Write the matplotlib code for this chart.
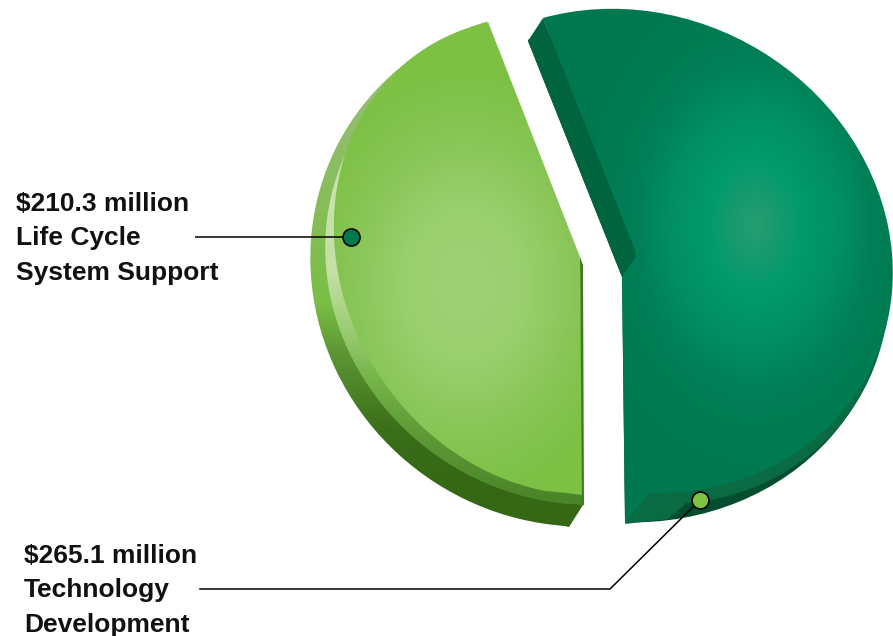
import numpy as np
import matplotlib
matplotlib.use("Agg")
import matplotlib.pyplot as plt
from matplotlib.colors import LinearSegmentedColormap
from matplotlib.patches import Polygon
from matplotlib.transforms import Affine2D

# data
values = [265.1, 210.3]
amounts = ["$265.1 million", "$210.3 million"]
names = [["Technology", "Development"], ["Life Cycle", "System Support"]]

W, H = 893, 636
plt.rcParams['font.family'] = ['Liberation Sans', 'DejaVu Sans']
fig = plt.figure(figsize=(W / 100, H / 100), dpi=100)
ax = fig.add_axes([0, 0, 1, 1])
yy, xx = np.mgrid[0:H, 0:W] + 0.5


def ellipse_layer(i, outline, flip, color='none', z=1, from_end=False):
    """One pie slice drawn on the ellipse through outline; it starts at outline[0]
    or, with from_end, finishes at outline[-1]."""
    wedges, _ = ax.pie(values, colors=[color, color], wedgeprops=dict(linewidth=0))
    wedges[1 - i].remove()
    w = wedges[i]
    w.set_zorder(z)
    w.set_clip_on(False)
    pts = np.array(outline, dtype=float)
    mean = pts.mean(axis=0)
    u, v = (pts - mean).T
    a, b, c, d, e = np.linalg.lstsq(np.c_[u * u, u * v, v * v, u, v], np.ones(len(u)), rcond=None)[0]
    Q = np.array([[a, b / 2], [b / 2, c]])
    o = np.linalg.solve(2 * Q, [-d, -e])
    k = 1 + o @ Q @ o
    L = np.linalg.cholesky(Q / k)
    M = np.linalg.inv(L.T)
    if flip:
        M = M @ np.diag([1, -1])
    ref = pts[-1] if from_end else pts[0]
    theta = w.theta2 if from_end else w.theta1
    first = np.linalg.solve(M, ref - mean - o)
    ang = np.arctan2(first[1], first[0]) - np.radians(theta)
    M = M @ np.array([[np.cos(ang), -np.sin(ang)], [np.sin(ang), np.cos(ang)]])
    c0 = mean + o
    w.set_transform(Affine2D.from_values(M[0, 0], M[1, 0], M[0, 1], M[1, 1], c0[0], c0[1])
                    + ax.transData)
    return w


def paint(field, stops, clip, z):
    cmap = LinearSegmentedColormap.from_list('g', stops)
    im = ax.imshow(np.clip(field, 0, 1), cmap=cmap, vmin=0, vmax=1,
                   extent=(0, W, H, 0), aspect='auto', zorder=z,
                   interpolation='bilinear')
    im.set_clip_path(clip)
    return im


def shape(points):
    p = Polygon(points, closed=True, transform=ax.transData, fc='none', ec='none')
    ax.add_patch(p)
    return p


def keep_inside(w, region):
    w.set_clip_on(True)
    w.set_clip_path(region)


# gradients
left_face = np.hypot((xx - 465) / 165, (yy - 285) / 215)
left_stops = [(0, '#a0d175'), (0.35, '#9acf6e'), (0.75, '#85c452'), (1, '#7cc143')]
left_wall = (yy - 100) / 390
left_wall_stops = [(0, '#93bd72'), (0.3, '#85bd55'), (0.52, '#7abf45'), (0.65, '#5c9633'),
                   (0.85, '#3a6e19'), (1, '#356715')]
left_bevel = (yy - 120) / 380
left_bevel_stops = [(0, '#cbe5b0'), (0.4, '#c4e0a6'), (0.55, '#9ccd74'), (0.68, '#74b548'),
                    (0.82, '#5f9c38'), (1, '#4a8428')]
right_face = np.hypot((xx - 755) / 190, (yy - 225) / 265)
right_stops = [(0, '#259e72'), (0.1, '#1a9b6f'), (0.25, '#009a6b'), (0.45, '#008f63'),
               (0.62, '#007f56'), (1, '#00784f')]

# left slice
w = ellipse_layer(1, [(487, 22), (417, 55), (383, 80), (357, 117), (313, 217), (310, 255),
                      (318, 320), (350, 383), (372, 437), (467, 497), (569, 527)], True, z=1)
paint(left_wall, left_wall_stops, w, 1)
paint(left_wall, left_wall_stops,
      shape([(520, 470), (520, 514), (545, 522), (569, 527), (583, 505), (583, 470)]), 1.5)
w = ellipse_layer(1, [(487, 32), (400, 90), (357, 122), (325, 220), (328, 270), (340, 320),
                      (412, 440), (500, 487), (582, 505)], True, z=2)
paint(left_bevel, left_bevel_stops, w, 2)
paint(left_bevel, left_bevel_stops,
      shape([(520, 470), (520, 494), (550, 501), (582, 505), (583, 470)]), 2.1)
w = ellipse_layer(1, [(488, 22), (417, 57), (383, 83), (357, 122), (337, 200), (338, 270),
                      (350, 320), (428, 432), (500, 477), (583, 495)], True, z=3)
paint(left_face, left_stops, w, 3)
paint(left_face, left_stops,
      shape([(488, 22), (580, 257), (583, 495), (566, 493), (548, 491), (530, 470), (500, 260)]), 3.1)
ax.add_patch(Polygon([(580, 257), (583, 265), (584, 505), (582, 505)], closed=True,
                     fc='#3f7a1c', ec='none', zorder=3.2))

# right slice
region = shape([(528, 41), (622, 277), (625, 524), (893, 636), (893, 0), (528, 0)])
w = ellipse_layer(0, [(528, 41), (600, 30), (700, 40), (800, 110), (880, 240), (888, 330),
                      (870, 380), (833, 430), (767, 487), (700, 513), (625, 524)], False,
                  color='#034e2e', z=4, from_end=True)
keep_inside(w, region)
ax.add_patch(Polygon([(543, 18), (637, 255), (622, 277), (528, 41)], closed=True,
                     fc='#00653f', ec='none', zorder=4.1))
w = ellipse_layer(0, [(548, 30), (640, 25), (800, 90), (880, 250), (886, 335), (870, 385),
                      (840, 425), (767, 478), (700, 503), (645, 503)], False,
                  color='#0a6a43', z=4.2, from_end=True)
keep_inside(w, region)
ax.add_patch(Polygon([(650, 492), (625, 524), (668, 519), (696, 495)], closed=True,
                     fc='#0a6a43', ec='none', zorder=4.3))
w = ellipse_layer(0, [(543, 18), (640, 10), (740, 42), (790, 67), (840, 123), (873, 183),
                      (892, 260), (887, 328), (867, 380), (833, 420), (767, 467),
                      (700, 492), (650, 492)], False, z=5)
paint(right_face, right_stops, w, 5)
paint(right_face, right_stops, shape([(543, 18), (637, 255), (622, 277), (625, 524), (650, 492),
                                      (680, 488), (670, 250)]), 5.2)

# leaders and markers
ax.plot([195, 351], [237, 237], color='black', lw=1.1, zorder=6, solid_capstyle='butt')
ax.plot([200, 610, 700], [589, 589, 500], color='black', lw=1.1, zorder=6,
        solid_joinstyle='miter')
ax.scatter([351], [237], s=150, fc='#00794f', ec='black', lw=1.2, zorder=7)
ax.scatter([700], [500], s=150, fc='#7cc243', ec='black', lw=1.2, zorder=7)

# labels
for x, y0, amount, lines in [(16, 211, amounts[1], names[1]), (24, 563, amounts[0], names[0])]:
    for k, s in enumerate([amount] + lines):
        ax.text(x, y0 + k * 34.5, s, fontsize=19, fontweight='bold', color='#111111',
                ha='left', va='baseline', zorder=8)

ax.set_aspect('auto')
ax.set_xlim(0, W)
ax.set_ylim(H, 0)
ax.axis('off')
fig.savefig('out.png', dpi=100, facecolor='white')
